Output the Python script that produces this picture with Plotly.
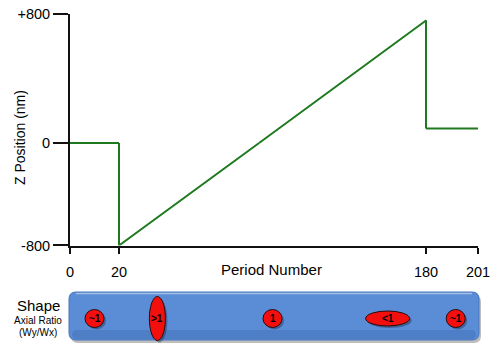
import plotly.graph_objects as go

# Z position of the sample over the acquisition periods (nm)
period = [0, 20, 20, 93, 180, 180, 201]
z_nm = [0, 0, -800, 0, 760, 90, 90]

x_tick_vals = [0, 20, 180, 201]
y_tick_vals = [800, 0, -800]
y_tick_text = ["+800", "0", "-800"]

# Spot shape (axial ratio Wy/Wx) seen at selected periods
shape_period = [10, 40, 100, 160, 192]
shape_label = ["~1", ">1", "1", "<1", "~1"]
shape_size_px = [(19, 18), (16, 44), (19, 18), (44, 15), (19, 18)]

W, H = 500, 348
FONT = "Liberation Sans, Arial, sans-serif"
GREEN = "#1f7a1f"
INK = "#111111"


def fx(px):
    return px / W


def fy(py):
    return 1 - py / H


# The schematic uses broken axes: every piece has its own scale.
# (axis name, value a, value b, pixel a, pixel b, padded range)
x_pieces = [
    ("x", 0, 20, 70, 119, (0, 20)),
    ("x2", 20, 180, 119, 426, (18, 182)),
    ("x3", 180, 201, 426, 478, (180, 201)),
]
y_pieces = [
    ("y", 0, 800, 143, 14, (-30, 800)),
    ("y2", -800, 0, 245.5, 143, (-800, 30)),
]


def piece_domain(a, b, pa, pb, rng):
    s = (pb - pa) / (b - a)
    return pa + (rng[0] - a) * s, pa + (rng[1] - a) * s


def x_axis_for(v):
    if v < 20:
        return "x"
    if v <= 180:
        return "x2"
    return "x3"


def y_axis_for(v):
    return "y" if v >= 0 else "y2"


fig = go.Figure()

# split the polyline into runs that share the same pair of axis pieces
runs = []
for i in range(len(period) - 1):
    xa = x_axis_for((period[i] + period[i + 1]) / 2)
    ya = y_axis_for((z_nm[i] + z_nm[i + 1]) / 2)
    if runs and runs[-1][0] == (xa, ya):
        runs[-1][1].append(period[i + 1])
        runs[-1][2].append(z_nm[i + 1])
    else:
        runs.append([(xa, ya), [period[i], period[i + 1]], [z_nm[i], z_nm[i + 1]]])

for (xa, ya), px_, pz in runs:
    fig.add_trace(go.Scatter(
        x=px_, y=pz, xaxis=xa, yaxis=ya, mode="lines",
        line=dict(color=GREEN, width=2), showlegend=False, hoverinfo="skip",
    ))

axis_common = dict(
    showline=True, linecolor=INK, linewidth=2, showgrid=False, zeroline=False,
    ticks="outside", tickcolor=INK, tickwidth=2, automargin=False,
    tickfont=dict(family=FONT, size=14.5, color="black"),
)

layout_axes = {}
for name, a, b, pa, pb, rng in x_pieces:
    d0, d1 = piece_domain(a, b, pa, pb, rng)
    vals = [v for v in x_tick_vals if x_axis_for(v) == name]
    key = "xaxis" if name == "x" else "xaxis" + name[1:]
    layout_axes[key] = dict(
        axis_common, domain=[fx(d0), fx(d1)], range=list(rng), anchor="y2",
        tickvals=vals, ticktext=[str(v) for v in vals], ticklen=6,
        ticklabelstandoff=6,
    )
for name, a, b, pa, pb, rng in y_pieces:
    d0, d1 = piece_domain(a, b, pa, pb, rng)
    idx = [i for i, v in enumerate(y_tick_vals) if y_axis_for(v) == name]
    key = "yaxis" if name == "y" else "yaxis" + name[1:]
    layout_axes[key] = dict(
        axis_common, domain=sorted([fy(d0), fy(d1)]), range=list(rng), anchor="x",
        tickvals=[y_tick_vals[i] for i in idx],
        ticktext=[y_tick_text[i] for i in idx], ticklen=15,
    )

fig.update_layout(**layout_axes)


def rounded_rect(x0, y0, x1, y1, r):
    # path in paper coordinates built from pixel corners
    pts = [
        f"M {fx(x0 + r)} {fy(y0)}",
        f"L {fx(x1 - r)} {fy(y0)}",
        f"Q {fx(x1)} {fy(y0)} {fx(x1)} {fy(y0 + r)}",
        f"L {fx(x1)} {fy(y1 - r)}",
        f"Q {fx(x1)} {fy(y1)} {fx(x1 - r)} {fy(y1)}",
        f"L {fx(x0 + r)} {fy(y1)}",
        f"Q {fx(x0)} {fy(y1)} {fx(x0)} {fy(y1 - r)}",
        f"L {fx(x0)} {fy(y0 + r)}",
        f"Q {fx(x0)} {fy(y0)} {fx(x0 + r)} {fy(y0)}",
        "Z",
    ]
    return " ".join(pts)


shapes = []
# shape panel: soft shadow, blue body, top highlight, darker lower band
shapes.append(dict(type="path", xref="paper", yref="paper",
                   path=rounded_rect(71, 295, 481, 343, 7),
                   fillcolor="rgba(70,70,70,0.35)", line=dict(width=0), layer="below"))
shapes.append(dict(type="path", xref="paper", yref="paper",
                   path=rounded_rect(69, 292, 479, 340, 7),
                   fillcolor="#5a8dd5", line=dict(color="#4977bd", width=1)))
shapes.append(dict(type="path", xref="paper", yref="paper",
                   path=rounded_rect(72, 330, 476, 339, 5),
                   fillcolor="rgba(30,60,130,0.18)", line=dict(width=0)))
shapes.append(dict(type="line", xref="paper", yref="paper",
                   x0=fx(76), x1=fx(472), y0=fy(293.6), y1=fy(293.6),
                   line=dict(color="rgba(255,255,255,0.45)", width=1.5)))

cy = 318.5
annotations = []
for p, lab, (w, h) in zip(shape_period, shape_label, shape_size_px):
    xa = x_axis_for(p)
    for dx, dy, fill, edge in [(2, -2, "rgba(20,20,40,0.35)", None),
                               (0, 0, "#f40f0f", "#2a0a0a")]:
        shapes.append(dict(
            type="circle", xref=xa, yref="paper",
            xsizemode="pixel", xanchor=p, x0=-w / 2 + dx, x1=w / 2 + dx,
            ysizemode="pixel", yanchor=fy(cy), y0=-h / 2 + dy, y1=h / 2 + dy,
            fillcolor=fill,
            line=dict(color=edge, width=1) if edge else dict(width=0),
        ))
    annotations.append(dict(
        x=p, y=fy(cy), xref=xa, yref="paper", text=f"<b>{lab}</b>",
        xanchor="center", yanchor="middle",
        showarrow=False, font=dict(family=FONT, size=10, color="black"),
    ))


def label(x, y, text, size, **kw):
    return dict(x=fx(x), y=fy(y), xref="paper", yref="paper", text=text,
                xanchor="center", yanchor="middle", showarrow=False,
                font=dict(family=FONT, size=size, color="black"), **kw)


annotations += [
    label(20, 138, "Z Position (nm)", 14, textangle=-90),
    label(271.5, 269.5, "Period Number", 15),
    label(38, 305.5, "Shape", 15),
    label(37.5, 320.5, "Axial Ratio", 10),
    label(38, 332, "(Wy/Wx)", 10),
]

fig.update_layout(
    template="none",
    width=W, height=H, autosize=False,
    margin=dict(l=0, r=0, t=0, b=0, pad=0),
    paper_bgcolor="white", plot_bgcolor="rgba(0,0,0,0)",
    shapes=shapes, annotations=annotations, showlegend=False,
    font=dict(family=FONT, color="black"),
)

fig.write_html("out.html", config={"displayModeBar": False})
